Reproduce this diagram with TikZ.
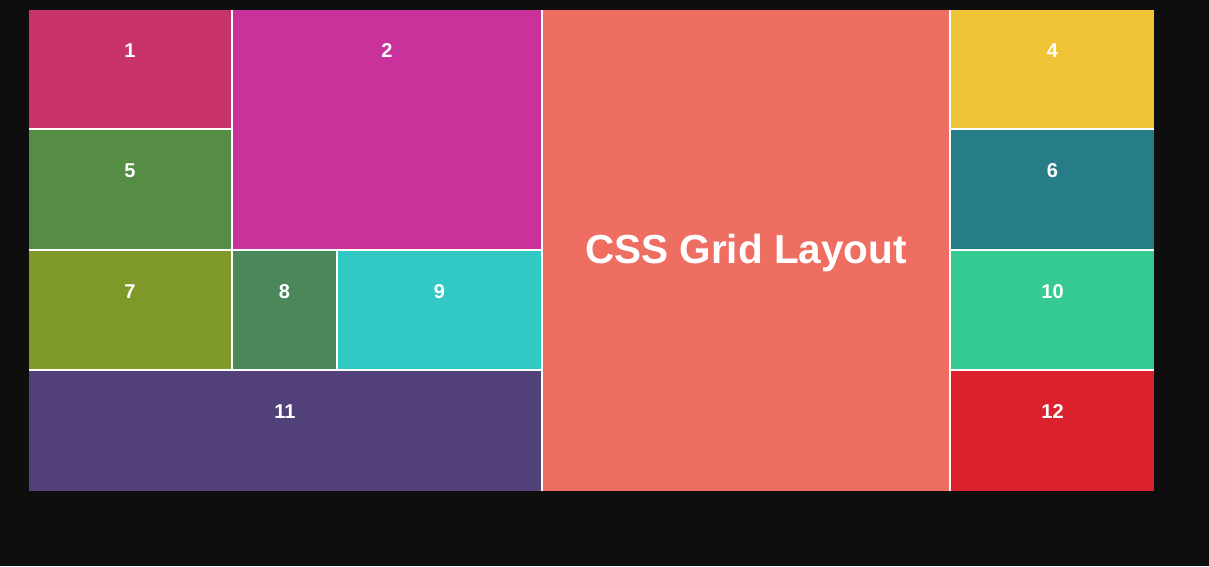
\documentclass[tikz,border=0pt]{standalone}
\usepackage{fontspec}
\setmainfont{Liberation Sans}
\definecolor{bgc}{HTML}{0E0E0E}
\definecolor{k1}{HTML}{C8336A}
\definecolor{k2}{HTML}{C9329B}
\definecolor{kc}{HTML}{EE6E62}
\definecolor{k4}{HTML}{F0C337}
\definecolor{k5}{HTML}{568D45}
\definecolor{k6}{HTML}{267D87}
\definecolor{k7}{HTML}{7E992A}
\definecolor{k8}{HTML}{4A875A}
\definecolor{k9}{HTML}{32C9C4}
\definecolor{k10}{HTML}{34CA91}
\definecolor{k11}{HTML}{524179}
\definecolor{k12}{HTML}{DC212E}
\tikzset{
  cell/.style={rectangle, draw=none, inner sep=0pt, outer sep=0pt, anchor=north west},
  num/.style={text=white, font=\bfseries\fontsize{20}{24}\selectfont, anchor=base, inner sep=0pt},
  title/.style={text=white, font=\bfseries\fontsize{40.5}{48}\selectfont, inner sep=0pt}
}
\newcommand{\gridcell}[7]{%
  \node[cell, fill=#2, minimum width=#5pt-#3pt, minimum height=#6pt-#4pt] (#1) at (#3,#4) {};
  \node[num] (#1t) at ([yshift=-47pt]#1.north) {#7};
}
\begin{document}
\begin{tikzpicture}[x=1pt,y=-1pt]
\useasboundingbox (0,0) rectangle (1209,566);
\fill[bgc] (0,0) rectangle (1209,566);
\fill[white] (29,10) rectangle (1154,491);
\gridcell{c1}{k1}{29}{10}{231}{128}{1}
\gridcell{c2}{k2}{233}{10}{541}{249}{2}
\gridcell{c4}{k4}{951}{10}{1154}{128}{4}
\gridcell{c5}{k5}{29}{130}{231}{249}{5}
\gridcell{c6}{k6}{951}{130}{1154}{249}{6}
\gridcell{c7}{k7}{29}{251}{231}{369}{7}
\gridcell{c8}{k8}{233}{251}{336}{369}{8}
\gridcell{c9}{k9}{338}{251}{541}{369}{9}
\gridcell{c10}{k10}{951}{251}{1154}{369}{10}
\gridcell{c11}{k11}{29}{371}{541}{491}{11}
\gridcell{c12}{k12}{951}{371}{1154}{491}{12}
\node[cell, fill=kc, minimum width=406pt, minimum height=481pt] (cc) at (543,10) {};
\node[title, anchor=base] (cct) at ([yshift=-12.5pt]cc.center) {CSS Grid Layout};
\end{tikzpicture}
\end{document}
